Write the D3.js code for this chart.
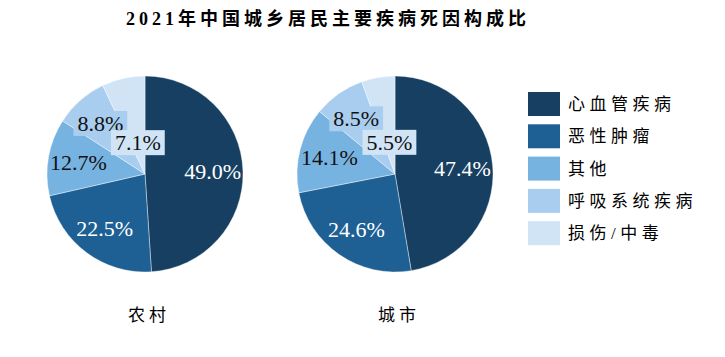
<!DOCTYPE html>
<html>
<head>
<meta charset="utf-8">
<script src="https://cdn.jsdelivr.net/npm/d3@7"></script>
<style>
  body { margin: 0; background: #fff; }
</style>
</head>
<body>
<script>
// data
var causes = ["心血管疾病", "恶性肿瘤", "其他", "呼吸系统疾病", "损伤/中毒"];
var ruralValues = [49.0, 22.5, 12.7, 8.8, 7.1];
var urbanValues = [47.4, 24.6, 14.1, 8.5, 5.5];
var groups = ["农村", "城市"];
var colors = ["#163f61", "#1e6094", "#77b3e1", "#a8cdee", "#d0e4f6"];

var serif = "'Liberation Serif', 'Times New Roman', 'DejaVu Serif', serif";
var mixed = "'Liberation Serif', 'Noto Sans CJK SC', serif";
var cjk = "'Noto Sans CJK SC', sans-serif";

var svgWidth = 725;
var svgHeight = 357;

var svg = d3.select("body")
  .append("svg")
  .attr("width", svgWidth)
  .attr("height", svgHeight);

// title
svg.append("text")
  .attr("x", 328)
  .attr("y", 25)
  .attr("text-anchor", "middle")
  .attr("font-family", mixed)
  .attr("font-size", "18px")
  .attr("font-weight", "bold")
  .style("letter-spacing", "4px")
  .text("2021年中国城乡居民主要疾病死因构成比");

var color = d3.scaleOrdinal().domain(causes).range(colors);

var radius = 98;
var pie = d3.pie().sort(null).value(d => d.value);
var arc = d3.arc().innerRadius(0).outerRadius(radius);

var pieData = [ruralValues, urbanValues];
var centers = d3.scalePoint().domain(groups).range([145, 395]);

groups.forEach(function (g, gi) {
  var rows = causes.map((c, i) => ({ cause: c, value: pieData[gi][i] }));
  var arcs = pie(rows);

  var pg = svg.append("g")
    .attr("transform", `translate(${centers(g)}, 174)`);

  pg.selectAll("path")
    .data(arcs)
    .enter()
    .append("path")
    .attr("d", arc)
    .attr("fill", d => color(d.data.cause))
    .attr("stroke", "#fff")
    .attr("stroke-width", 0.4);

  // labels: small last slice label pulled toward the centre
  var labels = pg.selectAll("g.lbl")
    .data(arcs)
    .enter()
    .append("g")
    .attr("class", "lbl")
    .attr("transform", function (d, i) {
      var k = i === 4 ? 0.33 : 0.69;
      var a = (d.startAngle + d.endAngle) / 2;
      return `translate(${Math.sin(a) * radius * k}, ${-Math.cos(a) * radius * k})`;
    });

  labels.append("text")
    .attr("text-anchor", "middle")
    .attr("dy", "0.35em")
    .attr("font-family", serif)
    .attr("font-size", "22px")
    .attr("fill", (d, i) => i < 2 ? "#fff" : "#111")
    .text(d => d.data.value.toFixed(1) + "%");

  // boxed labels for the two light slices
  labels.filter((d, i) => i >= 3).each(function (d) {
    var t = d3.select(this).select("text");
    var bb = t.node().getBBox();
    d3.select(this).insert("rect", "text")
      .attr("x", bb.x - 4)
      .attr("y", bb.y)
      .attr("width", bb.width + 8)
      .attr("height", bb.height)
      .attr("fill", color(d.data.cause));
  });

  svg.append("text")
    .attr("x", centers(g) + 4)
    .attr("y", 321)
    .attr("text-anchor", "middle")
    .attr("font-family", cjk)
    .attr("font-size", "17px")
    .style("letter-spacing", "4px")
    .text(g);
});

// legend
var legend = svg.selectAll("g.legend")
  .data(causes)
  .enter()
  .append("g")
  .attr("class", "legend")
  .attr("transform", (d, i) => `translate(528, ${92 + i * 32.3})`);

legend.append("rect")
  .attr("width", 32)
  .attr("height", 24)
  .attr("fill", d => color(d));

legend.append("text")
  .attr("x", 40)
  .attr("y", 18)
  .attr("font-family", mixed)
  .attr("font-size", "17px")
  .style("letter-spacing", "4.5px")
  .text(d => d);
</script>
</body>
</html>
